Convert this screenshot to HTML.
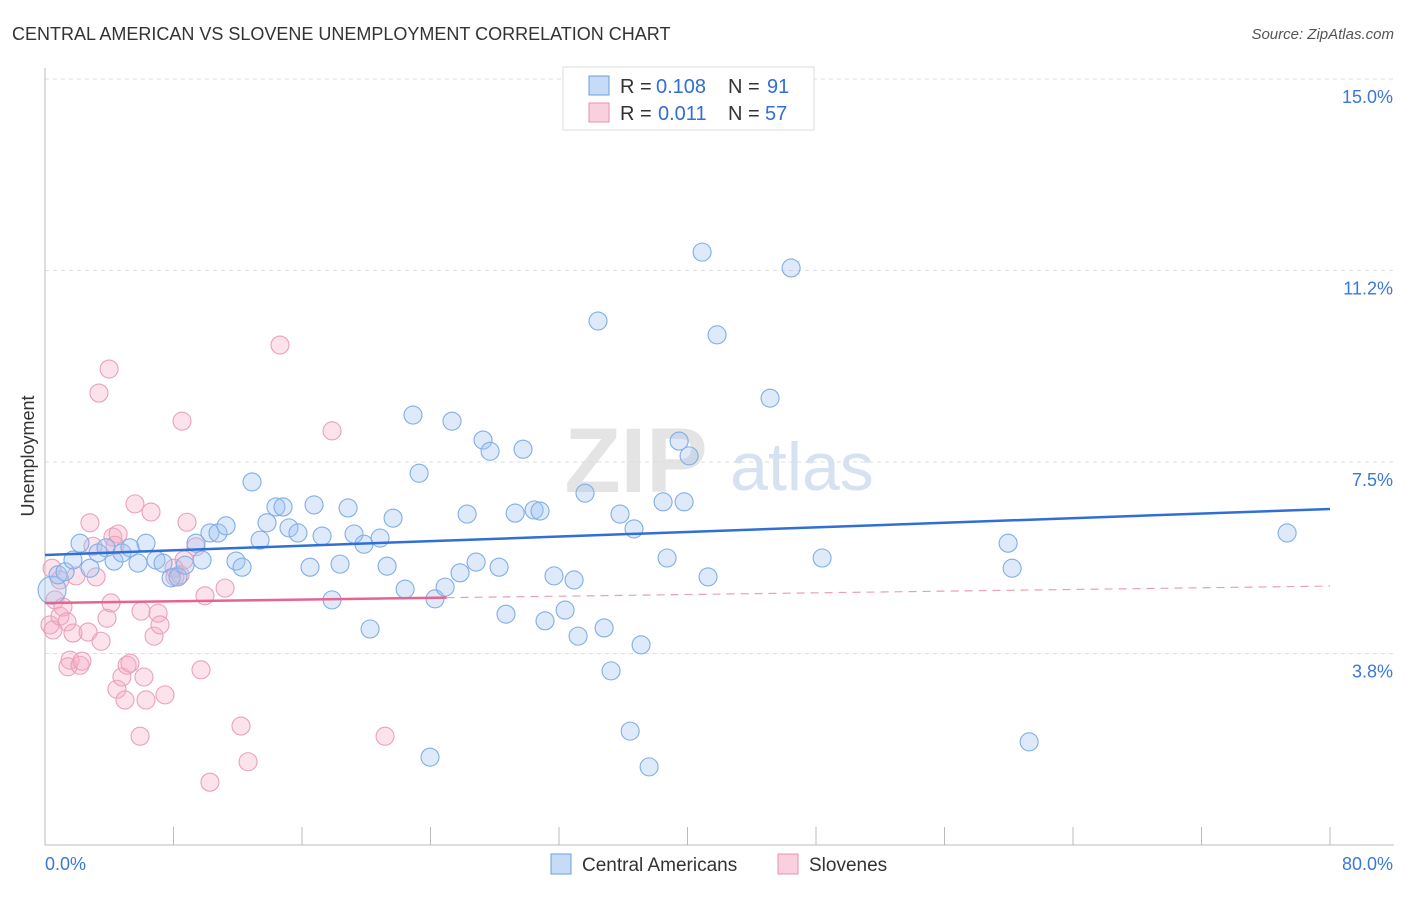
<!DOCTYPE html>
<html><head><meta charset="utf-8"><style>
body{margin:0;background:#fff;font-family:"Liberation Sans",sans-serif}
svg text{font-family:"Liberation Sans",sans-serif}
</style></head><body>
<svg id="chart" width="1406" height="892" xmlns="http://www.w3.org/2000/svg">
<text x="12" y="40" font-size="18" fill="#333">CENTRAL AMERICAN VS SLOVENE UNEMPLOYMENT CORRELATION CHART</text>
<text x="1394" y="39" font-size="15" fill="#555" font-style="italic" text-anchor="end">Source: ZipAtlas.com</text>
<g><text x="636" y="492" font-size="92" font-family="Liberation Serif" fill="#e4e4e4" text-anchor="middle" font-weight="bold">ZIP</text><text x="802" y="490" font-size="68" fill="#d6e2f2" text-anchor="middle">atlas</text></g>
<g id="grid"></g>
<g id="axes"></g>
<g id="pts"></g>
<g id="trends"></g>
<text transform="translate(34,456) rotate(-90)" font-size="18" fill="#333" text-anchor="middle">Unemployment</text>
<g>
<rect x="563" y="67" width="251" height="63" fill="#fff" stroke="#ddd"/>
<rect x="589" y="76" width="20" height="19" fill="rgba(160,196,240,0.6)" stroke="#6a9de0"/>
<rect x="589" y="103" width="20" height="19" fill="rgba(245,170,195,0.55)" stroke="#e890ae"/>
<text x="620" y="93" font-size="20" fill="#333">R =</text>
<text x="656" y="93" font-size="20" fill="#2f6fd6">0.108</text>
<text x="728" y="93" font-size="20" fill="#333">N =</text>
<text x="767" y="93" font-size="20" fill="#2f6fd6">91</text>
<text x="620" y="120" font-size="20" fill="#333">R =</text>
<text x="658" y="120" font-size="20" fill="#2f6fd6">0.011</text>
<text x="728" y="120" font-size="20" fill="#333">N =</text>
<text x="765" y="120" font-size="20" fill="#2f6fd6">57</text>
</g>
<g>
<rect x="551" y="854" width="20" height="20" fill="rgba(160,196,240,0.6)" stroke="#6a9de0"/>
<text x="582" y="871" font-size="19" fill="#333">Central Americans</text>
<rect x="778" y="854" width="20" height="20" fill="rgba(245,170,195,0.55)" stroke="#e890ae"/>
<text x="809" y="871" font-size="19" fill="#333">Slovenes</text>
</g>
</svg>
<script>
const yTicks=[3.75,7.5,11.25,15];
const yTickLabels=["3.8%","7.5%","11.2%","15.0%"];
const xTickVals=[0,8,16,24,32,40,48,56,64,72,80];
const xEndLabels=["0.0%","80.0%"];
const blueX=[.44,.81,1.25,1.74,2.18,2.80,3.30,3.80,4.30,4.79,5.29,5.79,6.29,6.91,7.35,7.85,8.28,8.72,9.40,9.78,10.27,10.77,11.27,11.89,12.27,12.89,13.39,13.82,14.38,14.82,15.19,15.75,16.50,16.75,17.25,17.87,18.37,18.87,19.24,19.86,20.24,20.86,21.30,21.67,22.42,22.91,23.29,23.97,24.28,24.91,25.34,25.84,26.28,26.84,27.27,27.71,28.27,28.70,29.27,29.76,30.45,30.82,31.13,31.69,32.38,32.94,33.19,33.62,34.43,34.81,35.24,35.80,36.43,36.67,37.11,37.61,38.48,38.73,39.48,39.79,40.10,40.91,41.28,41.84,45.14,46.45,48.38,59.96,60.21,61.27,77.33];
const blueY=[4.99,5.29,5.35,5.58,5.91,5.42,5.72,5.82,5.56,5.72,5.82,5.52,5.91,5.58,5.52,5.23,5.25,5.48,5.91,5.58,6.11,6.11,6.25,5.56,5.44,7.11,5.97,6.31,6.62,6.62,6.21,6.11,5.44,6.66,6.05,4.80,5.50,6.60,6.09,5.89,4.23,6.01,5.46,6.40,5.01,8.42,7.28,1.72,4.82,5.05,8.30,5.33,6.48,5.54,7.93,7.71,5.44,4.52,6.50,7.75,6.56,6.54,4.39,5.27,4.60,5.19,4.09,6.89,10.26,4.25,3.41,6.48,2.23,6.19,3.92,1.53,6.72,5.62,7.91,6.72,7.62,11.61,5.25,9.99,8.75,11.30,5.62,5.91,5.42,2.02,6.11];
const pinkX=[.44,.62,.31,.50,.93,1.12,1.37,1.56,1.74,1.43,1.93,2.18,2.30,2.68,2.80,2.99,3.18,3.36,3.49,3.86,3.99,4.11,4.23,4.48,4.55,4.79,4.98,5.11,5.29,5.60,5.92,5.98,6.16,6.29,6.60,6.79,7.04,7.16,7.47,8.03,8.53,8.66,8.84,9.40,9.71,9.96,10.27,11.21,12.20,12.64,14.63,17.87,21.17,8.09,8.41,4.36,.93];
const pinkY=[5.42,4.80,4.31,4.21,4.48,4.66,4.37,3.62,4.15,3.49,5.27,3.52,3.60,4.17,6.31,5.85,5.25,8.85,3.99,4.44,9.32,4.74,6.03,3.05,6.09,3.29,2.84,3.52,3.56,6.68,2.13,4.58,3.29,2.84,6.52,4.09,4.54,4.31,2.94,5.42,8.30,5.58,6.32,5.84,3.43,4.88,1.23,5.03,2.33,1.63,9.79,8.11,2.13,5.25,5.29,5.87,5.19];
const trendBlue=[5.68,6.58];
const trendPink=[4.74,5.07];
const pinkSolidEnd=25;

const X0=45,X1=1330,Y0=845,Y1=79;
const sx=v=>X0+(v/80)*(X1-X0);
const sy=v=>Y0-(v/15)*(Y0-Y1);
const NS="http://www.w3.org/2000/svg";
function mk(tag,attrs,parent){const e=document.createElementNS(NS,tag);for(const k in attrs)e.setAttribute(k,attrs[k]);parent.appendChild(e);return e;}
const grid=document.getElementById('grid'),axes=document.getElementById('axes'),pts=document.getElementById('pts'),tr=document.getElementById('trends');
yTicks.forEach((t,i)=>{
 const l=mk('line',{x1:X0,x2:1394,y1:sy(t),y2:sy(t),stroke:'#ddd','stroke-dasharray':'4,4'},grid);
 
 
 const tx=mk('text',{x:1393,y:sy(t)+24,'font-size':18,fill:'#3a78d8','text-anchor':'end'},axes);
 tx.textContent=yTickLabels[i];
 
 
});
const ax=mk('line',{x1:X0,x2:X0,y1:68,y2:Y0,stroke:'#bbb'},axes);


const bx=mk('line',{x1:X0,x2:1394,y1:Y0,y2:Y0,stroke:'#bbb'},axes);


xTickVals.forEach(t=>{
 const l=mk('line',{x1:sx(t),x2:sx(t),y1:Y0,y2:Y0-18,stroke:'#bbb'},axes);
 
 
});
const xl0=mk('text',{x:45,y:870,'font-size':18,fill:'#3a78d8'},axes);xl0.textContent=xEndLabels[0];


const xl1=mk('text',{x:1393,y:870,'font-size':18,fill:'#3a78d8','text-anchor':'end'},axes);xl1.textContent=xEndLabels[1];


pinkX.forEach((x,i)=>{
 const c=mk('circle',{cx:sx(x),cy:sy(pinkY[i]),r:9,fill:'rgba(245,170,195,0.33)',stroke:'#eaa0ba','stroke-width':1.1},pts);
 
 
});
blueX.forEach((x,i)=>{
 const c=mk('circle',{cx:sx(x),cy:sy(blueY[i]),r:i===0?14:9,fill:'rgba(160,196,240,0.35)',stroke:'#80aee6','stroke-width':1.1},pts);
 
 
});
const tb=mk('line',{x1:sx(0),y1:sy(trendBlue[0]),x2:sx(80),y2:sy(trendBlue[1]),stroke:'#2f6fd6','stroke-width':2.5},tr);


const pm=trendPink[0]+(trendPink[1]-trendPink[0])*pinkSolidEnd/80;
const tp=mk('line',{x1:sx(0),y1:sy(trendPink[0]),x2:sx(pinkSolidEnd),y2:sy(pm),stroke:'#e8648e','stroke-width':2.5},tr);


const td=mk('line',{x1:sx(pinkSolidEnd),y1:sy(pm),x2:sx(80),y2:sy(trendPink[1]),stroke:'#e8a0b8','stroke-width':1.2,'stroke-dasharray':'8,6'},tr);


</script>
</body></html>
